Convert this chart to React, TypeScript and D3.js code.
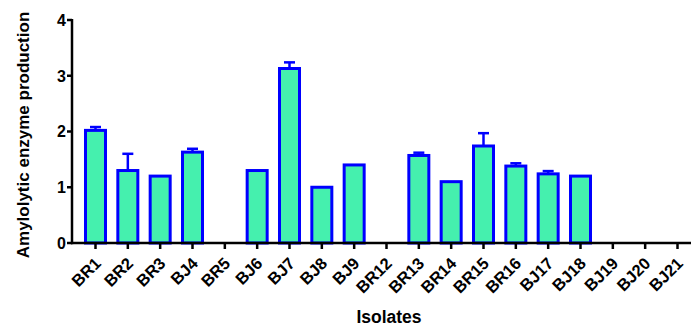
import React from 'react'
import * as d3 from 'd3'

// isolates and their amylolytic enzyme production (mean, error)
const isolates = ['BR1', 'BR2', 'BR3', 'BJ4', 'BR5', 'BJ6', 'BJ7', 'BJ8', 'BJ9', 'BR12', 'BR13', 'BR14', 'BR15', 'BR16', 'BJ17', 'BJ18', 'BJ19', 'BJ20', 'BJ21']
const means = [2.02, 1.3, 1.2, 1.63, 0, 1.3, 3.13, 1.0, 1.4, 0, 1.57, 1.1, 1.74, 1.38, 1.24, 1.2, 0, 0, 0]
const errors = [0.06, 0.3, 0, 0.06, 0, 0, 0.11, 0, 0, 0, 0.05, 0, 0.23, 0.05, 0.05, 0, 0, 0, 0]
const yTicks = [0, 1, 2, 3, 4]

const W = 691
const H = 326
const font = '"Liberation Sans", Arial, sans-serif'

const App = () => {
  const x = d3.scalePoint<string>().domain(isolates).range([95.5, 677.5])
  const y = d3.scaleLinear().domain([0, 4]).range([243, 20])
  const barW = 20
  const capW = 11
  const axisLeft = 72

  return (
    <svg width={W} height={H} style={{ position: 'absolute', left: 0, top: 0 }} fontFamily={font}>
      {/* bars */}
      {isolates.map((c, i) =>
        means[i] > 0 ? (
          <g key={c}>
            {errors[i] > 0 && (
              <g stroke="#0000ff" strokeWidth={2.5}>
                <line x1={x(c)} x2={x(c)} y1={y(means[i])} y2={y(means[i] + errors[i])} />
                <line x1={x(c)! - capW / 2} x2={x(c)! + capW / 2} y1={y(means[i] + errors[i])} y2={y(means[i] + errors[i])} />
              </g>
            )}
            <rect
              x={x(c)! - barW / 2}
              y={y(means[i])}
              width={barW}
              height={y(0) - y(means[i])}
              fill="#45f0ae"
              stroke="#0000ff"
              strokeWidth={3}
            />
          </g>
        ) : null
      )}

      {/* y axis */}
      <line x1={axisLeft} x2={axisLeft} y1={y(4) - 1} y2={y(0) + 1.2} stroke="#000" strokeWidth={2.5} />
      {yTicks.map((t) => (
        <g key={t}>
          <line x1={axisLeft - 5} x2={axisLeft} y1={y(t)} y2={y(t)} stroke="#000" strokeWidth={2.5} />
          <text x={axisLeft - 6} y={y(t)} dy="0.36em" textAnchor="end" fontSize={16} fontWeight="bold">
            {t}
          </text>
        </g>
      ))}

      {/* x axis */}
      <line x1={axisLeft - 1} x2={W} y1={y(0)} y2={y(0)} stroke="#000" strokeWidth={2.5} />
      {isolates.map((c) => (
        <g key={c}>
          <line x1={x(c)} x2={x(c)} y1={y(0)} y2={y(0) + 6} stroke="#000" strokeWidth={2.5} />
          <text
            transform={`translate(${x(c)! - 2},${y(0) + 13}) rotate(-45)`}
            textAnchor="end"
            dy="0.72em"
            fontSize={16.5}
            fontWeight="bold"
          >
            {c}
          </text>
        </g>
      ))}

      {/* titles */}
      <text transform="translate(29,135) rotate(-90)" textAnchor="middle" fontSize={17} fontWeight="bold">
        Amylolytic enzyme production
      </text>
      <text x={389} y={323} textAnchor="middle" fontSize={17.5} fontWeight="bold">
        Isolates
      </text>
    </svg>
  )
}

export default App
